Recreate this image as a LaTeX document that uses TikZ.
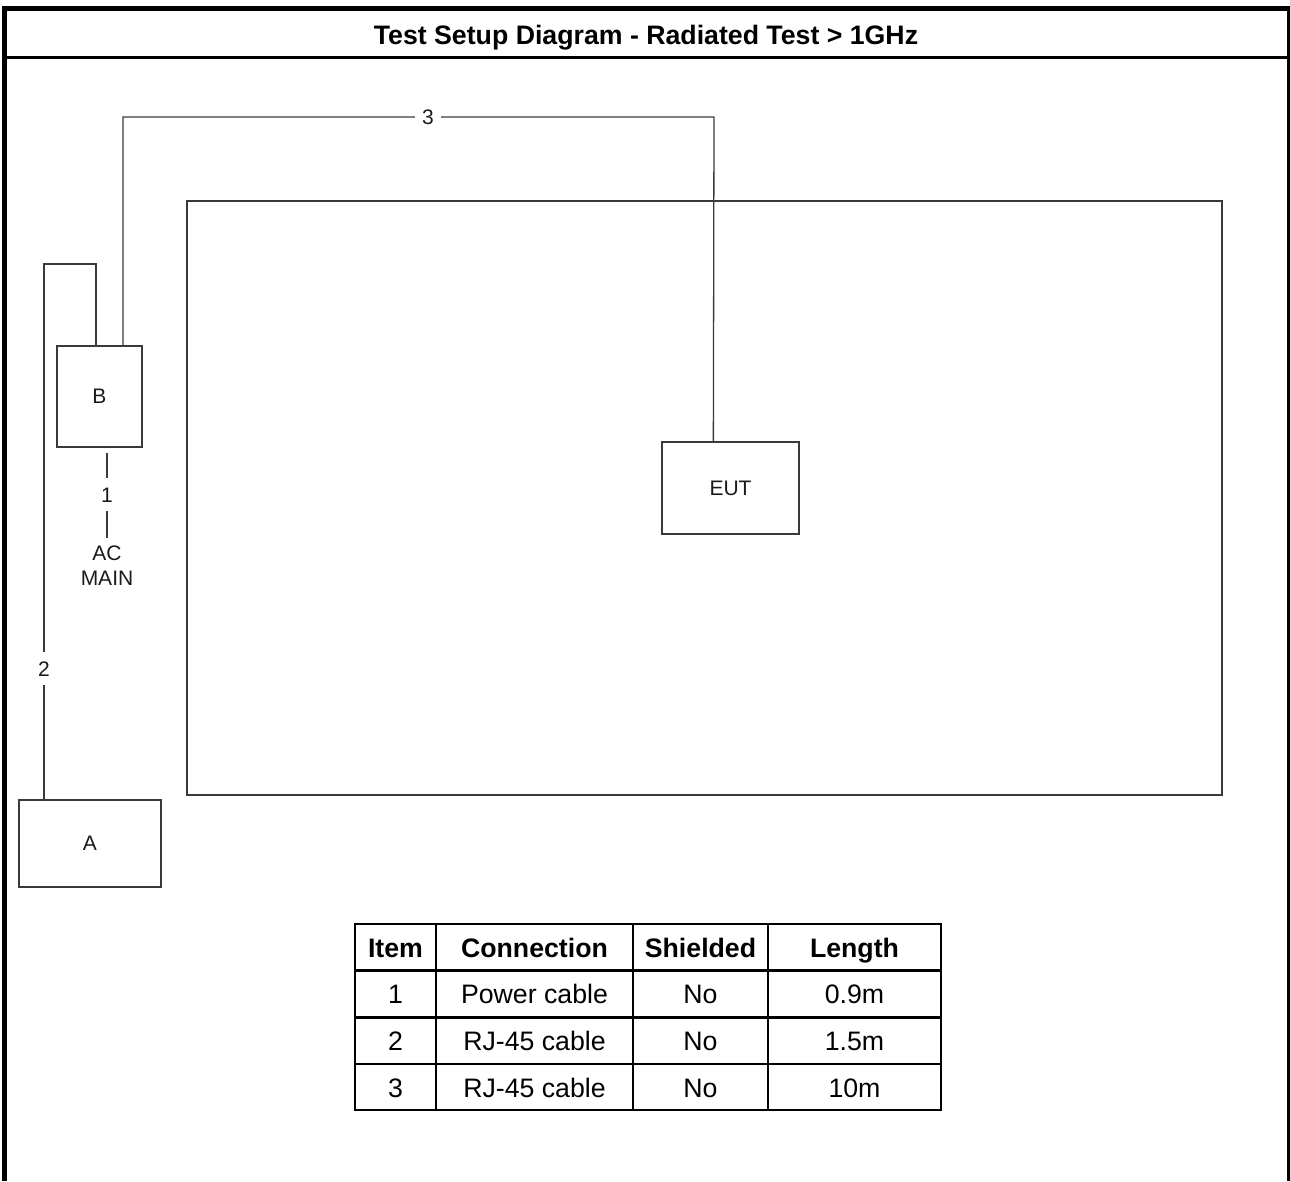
\documentclass[tikz,border=0pt]{standalone}
\usepackage{fontspec}
\setmainfont{Liberation Sans}
\usetikzlibrary{calc}
\definecolor{linegray}{HTML}{3A3A3A}
\definecolor{txt}{HTML}{1A1A1A}
\begin{document}
\begin{tikzpicture}[x=1pt,y=-1pt,
  box/.style={draw=linegray, line width=1.3pt, inner sep=0pt, text=txt,
    font=\fontsize{21}{25}\selectfont},
  cable/.style={draw=linegray, line width=1.3pt},
  lbl/.style={fill=white, inner xsep=7pt, inner ysep=9pt, text=txt, text height=15pt, text depth=0pt,
    font=\fontsize{21}{25}\selectfont},
  thead/.style={font=\bfseries\fontsize{26.7}{30}\selectfont, text=black, text height=19pt, text depth=0pt},
  tcell/.style={font=\fontsize{26.7}{30}\selectfont, text=black, text height=19pt, text depth=0pt}]
\useasboundingbox (0,0) rectangle (1290,1181);
% outer frame
\draw[black, line width=4.7pt] (4.3,1181) -- (4.3,8.3) -- (1290,8.3);
\draw[black, line width=2.7pt] (1288.7,6) -- (1288.7,1181);
\draw[black, line width=2.7pt] (4,57.5) -- (1288,57.5);
\node[font=\bfseries\fontsize{26.7}{30}\selectfont, text height=19pt, text depth=0pt] (title) at (646,35) {Test Setup Diagram - Radiated Test > 1GHz};
% room
\node[box, minimum width=1035pt, minimum height=594pt] (room) at (704.5,498) {};
% equipment
\node[box, minimum width=137pt, minimum height=92pt] (EUT) at (730.5,488) {EUT};
\node[box, minimum width=85pt, minimum height=101pt] (B) at (99.5,396.5) {B};
\node[box, minimum width=142pt, minimum height=87pt] (A) at (90,843.5) {A};
% cable 3
\coordinate (c3a) at (714,117);
\coordinate (c3b) at (123,117);
\draw[cable] ([xshift=52pt]EUT.north west) -- (c3a) -- node[lbl, pos=0.4839, inner ysep=2pt]{3} (c3b) -- ([xshift=23.5pt]B.north);
% cable 2
\coordinate (c2a) at (44,264);
\coordinate (c2b) at (96,264);
\draw[cable] ([xshift=-46pt]A.north) -- node[lbl, pos=0.244]{2} (c2a) -- (c2b) -- ([xshift=-3.5pt]B.north);
% cable 1
\coordinate (c1) at (107,453);
\node[text=txt, font=\fontsize{21}{25}\selectfont, align=center, inner sep=0pt] (acmain) at (107,566) {AC\\MAIN};
\draw[cable] (c1) -- node[lbl, pos=0.49]{1} ($(acmain.north)+(0,-8)$);
% table
\begin{scope}[line width=2.7pt, draw=black]
\draw (355,924) rectangle (941,1110);
\draw (355,970.5) -- (941,970.5);
\draw (355,1017.5) -- (941,1017.5);
\draw (355,1064) -- (941,1064);
\draw (436,924) -- (436,1110);
\draw (633,924) -- (633,1110);
\draw (768,924) -- (768,1110);
\end{scope}
\node[thead] (h1) at (395.5,947.5) {Item};
\node[thead] (h2) at (534.5,947.5) {Connection};
\node[thead] (h3) at (700.5,947.5) {Shielded};
\node[thead] (h4) at (854.5,947.5) {Length};
\node[tcell] (r11) at (395.5,994) {1};
\node[tcell] (r12) at (534.5,994) {Power cable};
\node[tcell] (r13) at (700.5,994) {No};
\node[tcell] (r14) at (854.5,994) {0.9m};
\node[tcell] (r21) at (395.5,1041) {2};
\node[tcell] (r22) at (534.5,1041) {RJ-45 cable};
\node[tcell] (r23) at (700.5,1041) {No};
\node[tcell] (r24) at (854.5,1041) {1.5m};
\node[tcell] (r31) at (395.5,1087.5) {3};
\node[tcell] (r32) at (534.5,1087.5) {RJ-45 cable};
\node[tcell] (r33) at (700.5,1087.5) {No};
\node[tcell] (r34) at (854.5,1087.5) {10m};
\end{tikzpicture}
\end{document}
